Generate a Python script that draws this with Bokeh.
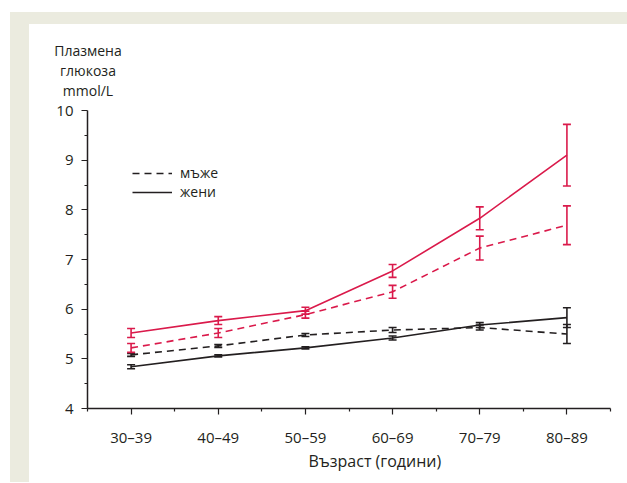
from bokeh.plotting import figure
from bokeh.models import Range1d, FixedTicker, Whisker, TeeHead, ColumnDataSource, Legend, LegendItem, Div, Title
from bokeh.layouts import column
from bokeh.embed import file_html
from bokeh.resources import INLINE

# ---- data ----
ages = ["30–39", "40–49", "50–59", "60–69", "70–79", "80–89"]
black_women = [4.84, 5.06, 5.22, 5.42, 5.68, 5.83]
black_women_err = [0.04, 0.02, 0.02, 0.04, 0.05, 0.20]
black_men = [5.08, 5.26, 5.48, 5.58, 5.63, 5.50]
black_men_err = [0.03, 0.03, 0.03, 0.05, 0.05, 0.19]
red_women = [5.52, 5.77, 5.97, 6.77, 7.83, 9.10]
red_women_err = [0.09, 0.08, 0.07, 0.13, 0.23, 0.62]
red_men = [5.22, 5.52, 5.89, 6.35, 7.23, 7.69]
red_men_err = [0.09, 0.09, 0.07, 0.13, 0.24, 0.39]
y_ticks = [4, 5, 6, 7, 8, 9, 10]
y_title = ["Плазмена", "глюкоза", "mmol/L"]
x_title = "Възраст (години)"
legend_labels = ["мъже", "жени"]

RED = "#DA1A4B"
BLACK = "#231F20"
FONT = "Open Sans"
BEIGE = "#EBEBDF"

xs = [i + 1 for i in range(len(ages))]

p = figure(frame_width=523, frame_height=298,
           min_border_left=58, min_border_right=17, min_border_top=11, min_border_bottom=74,
           x_range=Range1d(0.5, len(ages) + 0.5), y_range=Range1d(4, 10),
           output_backend="svg", toolbar_location=None)
p.background_fill_color = "white"
p.border_fill_color = "white"
p.outline_line_color = None
p.xgrid.visible = False
p.ygrid.visible = False

p.xaxis.ticker = FixedTicker(ticks=xs, minor_ticks=[x - 0.5 for x in xs] + [xs[-1] + 0.5])
p.xaxis.major_label_overrides = {x: a for x, a in zip(xs, ages)}
p.yaxis.ticker = FixedTicker(ticks=y_ticks, minor_ticks=[t + 0.5 for t in y_ticks[:-1]])

for ax in (p.xaxis, p.yaxis):
    ax.axis_line_color = BLACK
    ax.axis_line_width = 1.5
    ax.major_tick_line_color = BLACK
    ax.minor_tick_line_color = BLACK
    ax.major_tick_line_width = 1.2
    ax.minor_tick_line_width = 1.2
    ax.major_tick_in = 0
    ax.major_tick_out = 6
    ax.minor_tick_in = 0
    ax.minor_tick_out = 3
    ax.major_label_text_font = FONT
    ax.major_label_text_font_size = "15px"
    ax.major_label_text_color = BLACK
p.xaxis.major_label_standoff = 12
p.yaxis.major_label_standoff = 8

xt = Title(text=x_title, align="left", offset=221, text_font=FONT, text_font_size="16px",
           text_font_style="normal", text_color=BLACK, standoff=0, vertical_align="top")
p.add_layout(xt, "below")

def series(vals, errs, color, dash):
    src = ColumnDataSource(dict(x=xs, y=vals,
                                lo=[v - e for v, e in zip(vals, errs)],
                                hi=[v + e for v, e in zip(vals, errs)]))
    r = p.line("x", "y", source=src, line_color=color, line_width=1.6, line_dash=dash)
    w = Whisker(base="x", upper="hi", lower="lo", source=src, dimension="height",
                line_color=color, line_width=1.6,
                upper_head=TeeHead(size=8, line_color=color, line_width=1.6),
                lower_head=TeeHead(size=8, line_color=color, line_width=1.6))
    p.add_layout(w)
    return r

r_bm = series(black_men, black_men_err, BLACK, "7 5")
r_bw = series(black_women, black_women_err, BLACK, "solid")
series(red_men, red_men_err, RED, "7 5")
series(red_women, red_women_err, RED, "solid")

legend = Legend(items=[LegendItem(label=legend_labels[0], renderers=[r_bm]),
                       LegendItem(label=legend_labels[1], renderers=[r_bw])],
                location=(45, 207), orientation="vertical")
legend.border_line_color = None
legend.background_fill_alpha = 0
legend.padding = 0
legend.margin = 0
legend.spacing = -2
legend.glyph_width = 40
legend.glyph_height = 16
legend.label_height = 16
legend.label_standoff = 8
legend.label_text_font = FONT
legend.label_text_font_size = "14px"
legend.label_text_color = BLACK
p.add_layout(legend, "center")

ytitle = Div(text='<div style="width:118px;text-align:center;padding-top:17px;line-height:20px;">'
                  + "<br>".join(y_title) + "</div>",
             width=598, height=75,
             styles={"margin": "0", "background-color": "white", "overflow": "visible",
                     "font-family": FONT, "font-size": "14px", "color": BLACK})

root = column(ytitle, p, styles={"background-color": "white",
                                 "border-top": "12px solid " + BEIGE,
                                 "border-left": "19px solid " + BEIGE,
                                 "margin-left": "10px", "margin-top": "12px"})

open("out.html", "w").write(file_html(root, INLINE))
